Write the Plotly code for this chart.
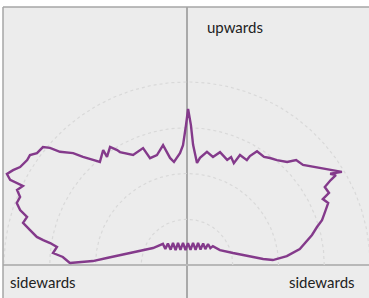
import numpy as np
import plotly.graph_objects as go

# Polar pattern: angle (degrees, 0 = right "sidewards", 90 = "upwards") and level (grid rings = 1..4)
angle_deg = [
    179.0, 178.4, 177.6, 175.0, 171.5, 168.1, 161.2, 153.4, 138.8,
    143.3, 131.5, 136.8, 122.5, 127.5, 112.2, 113.4, 100.3, 95.7, 87.4,
    76.9, 74.7, 60.5, 63.4, 48.9, 53.3, 40.9, 45.0, 35.9,
    36.2, 24.4, 14.6, 10.1, 6.9, 4.5, 3.3,
    5.1, 8.1, 10.9, 13.5, 16.3, 18.4, 21.0, 23.7, 25.9, 26.9,
    29.5, 30.6, 31.1, 32.5, 31.0, 33.4, 35.2, 37.9, 40.8, 43.9,
    45.8, 49.4, 52.2, 54.5, 58.4, 60.0, 60.3, 64.3, 65.3, 67.8,
    69.1, 73.7, 76.5, 80.0, 83.1, 84.4, 87.1, 88.4, 89.6, 90.4,
    91.9, 93.6, 97.2, 99.0, 101.3, 105.3, 109.1, 110.6, 116.1, 120.7,
    121.3, 123.1, 126.5, 126.1, 130.2, 131.8, 133.9, 135.5, 138.3, 139.5,
    140.7, 143.3, 145.0, 146.7, 149.6, 151.4, 153.2, 154.3, 154.2, 154.3,
    156.2, 157.8, 160.0, 161.8, 163.3, 165.6, 167.4, 169.4, 170.2, 170.9,
    172.1, 174.9, 176.3,
]
level = [
    2.56, 2.34, 2.06, 1.76, 1.48, 1.27, 1.02, 0.83, 0.70,
    0.59, 0.63, 0.49, 0.57, 0.41, 0.52, 0.36, 0.49, 0.33, 0.48,
    0.34, 0.50, 0.38, 0.54, 0.45, 0.59, 0.53, 0.65, 0.63,
    0.70, 0.79, 1.04, 1.24, 1.45, 1.67, 1.88,
    2.19, 2.49, 2.65, 2.81, 2.96, 3.11, 3.23, 3.37, 3.30, 3.48,
    3.46, 3.65, 3.80, 3.71, 3.95, 3.77, 3.64, 3.49, 3.35, 3.31,
    3.14, 3.02, 2.96, 2.90, 2.92, 2.75, 2.64, 2.67, 2.45, 2.55,
    2.46, 2.57, 2.43, 2.51, 2.36, 2.24, 2.63, 3.06, 3.41, 3.06,
    2.62, 2.45, 2.27, 2.37, 2.67, 2.49, 2.47, 2.73, 2.68, 2.87,
    2.94, 3.08, 2.94, 3.11, 2.95, 3.08, 3.28, 3.49, 3.72, 3.94,
    4.07, 4.09, 4.19, 4.18, 4.23, 4.33, 4.41, 4.29, 4.13, 3.98,
    4.06, 3.94, 3.96, 3.84, 3.65, 3.70, 3.52, 3.34, 3.19, 3.03,
    2.87, 2.94, 2.72,
]
ring_levels = [1, 2, 3, 4]
label_up = "upwards"
label_side = "sidewards"

th = np.radians(np.array(angle_deg + angle_deg[:1]))
rr = np.array(level + level[:1])
xs = rr * np.cos(th)
ys = rr * np.sin(th)

fig = go.Figure()

arc_t = np.radians(np.linspace(0, 180, 181))
for r in ring_levels:
    fig.add_trace(go.Scatter(
        x=r * np.cos(arc_t), y=r * np.sin(arc_t), mode="lines",
        line=dict(color="#d9d9d9", width=1.2, dash="dot"),
        hoverinfo="skip", showlegend=False))

fig.add_trace(go.Scatter(
    x=xs, y=ys, mode="lines",
    line=dict(color="#843a8b", width=2.4),
    showlegend=False))

fig.update_layout(
    width=369, height=298,
    margin=dict(l=3, r=0, t=7, b=0),
    paper_bgcolor="white",
    plot_bgcolor="#ececec",
    xaxis=dict(range=[-4.022, 3.978], showgrid=False, showticklabels=False,
               ticks="", zeroline=True, zerolinecolor="#a9a9a9", zerolinewidth=1.5,
               fixedrange=True),
    yaxis=dict(range=[-0.721, 5.639], showgrid=False, showticklabels=False,
               ticks="", zeroline=True, zerolinecolor="#b8b8b8", zerolinewidth=2,
               fixedrange=True),
    shapes=[
        dict(type="line", xref="paper", yref="paper", x0=0, x1=0, y0=0, y1=1,
             line=dict(color="#a6a6a6", width=1.5)),
        dict(type="line", xref="paper", yref="paper", x0=0, x1=1, y0=1, y1=1,
             line=dict(color="#a6a6a6", width=1.5)),
    ],
    annotations=[
        dict(text=label_up, xref="paper", yref="paper", x=0.552, y=0.931,
             xanchor="left", yanchor="middle", showarrow=False,
             font=dict(family="Lato", size=15, color="#222222")),
        dict(text=label_side, xref="paper", yref="paper", x=0.0137, y=0.055,
             xanchor="left", yanchor="middle", showarrow=False,
             font=dict(family="Lato", size=15, color="#222222")),
        dict(text=label_side, xref="paper", yref="paper", x=0.967, y=0.055,
             xanchor="right", yanchor="middle", showarrow=False,
             font=dict(family="Lato", size=15, color="#222222")),
    ],
)

fig.write_html("out.html", config={"displayModeBar": False},
               post_script="document.body.style.margin='0px';document.body.style.padding='0px';")
